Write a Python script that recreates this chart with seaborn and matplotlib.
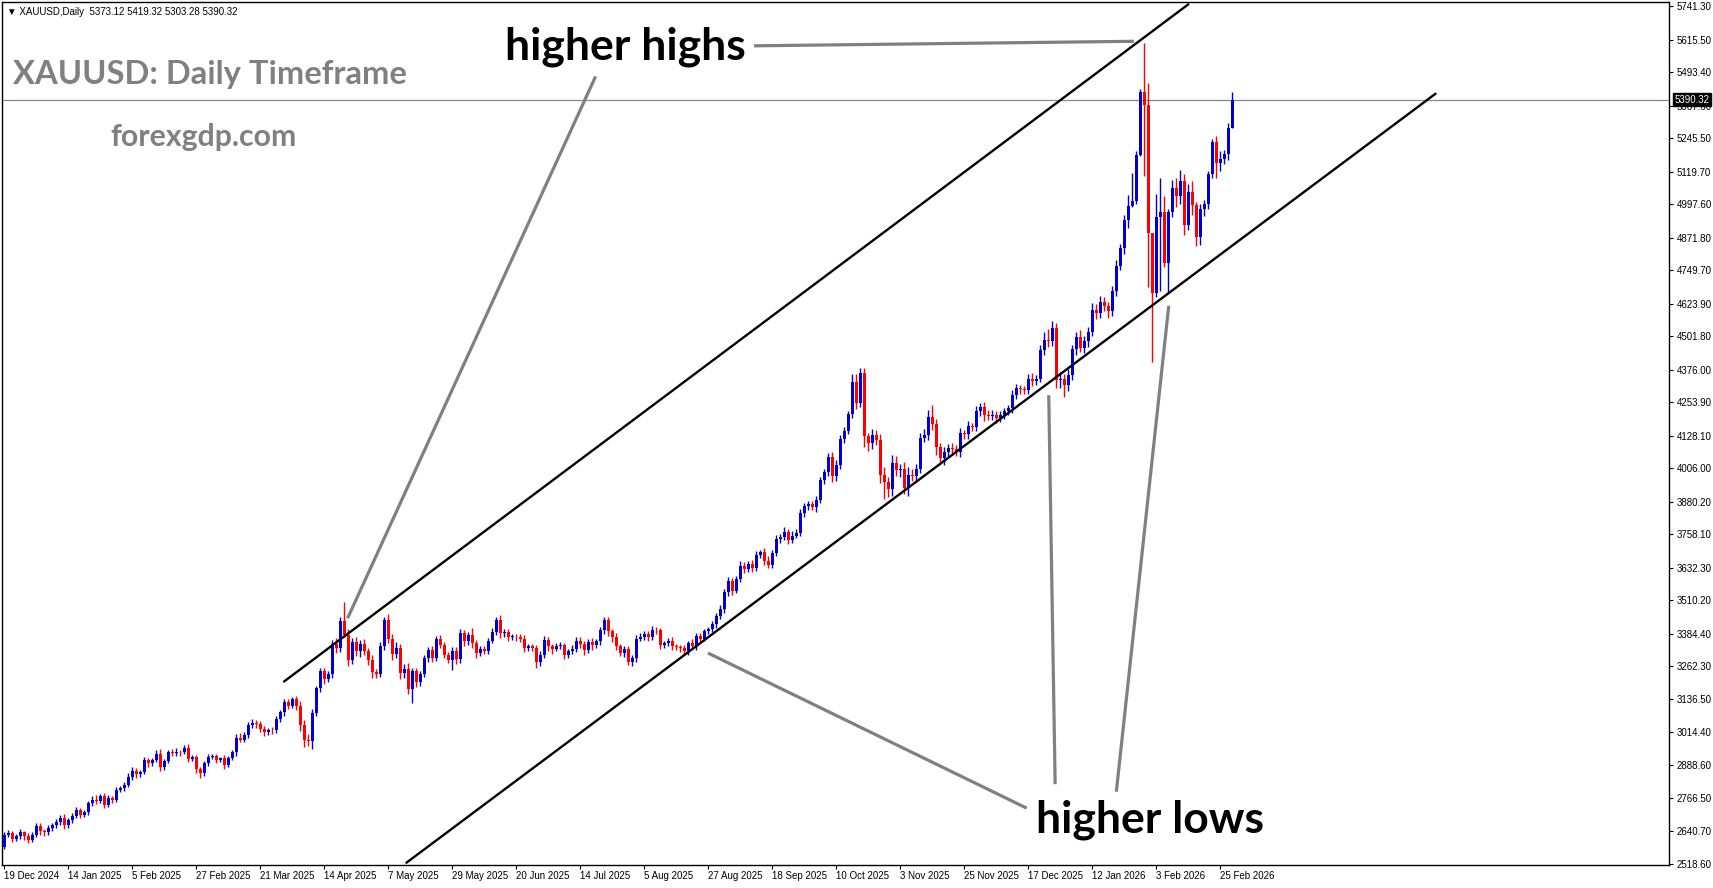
import matplotlib
matplotlib.use("Agg")
import matplotlib.pyplot as plt
import matplotlib.transforms as mtransforms
import numpy as np
import pandas as pd
import seaborn as sns

# daily closes (19 Dec 2024 .. 2 Mar 2026), open = previous close
first_open = 2584
closes = [
    2628, 2634, 2612, 2622, 2637, 2622, 2610, 2628, 2660, 2641,
    2637, 2653, 2663, 2675, 2692, 2663, 2682, 2700, 2721, 2703,
    2713, 2747, 2760, 2754, 2775, 2741, 2766, 2760, 2797, 2802,
    2816, 2845, 2869, 2856, 2865, 2910, 2896, 2908, 2933, 2881,
    2904, 2938, 2935, 2940, 2938, 2955, 2914, 2919, 2877, 2860,
    2896, 2921, 2923, 2910, 2915, 2889, 2918, 2938, 2993, 2986,
    3004, 3039, 3050, 3045, 3025, 3014, 3023, 3020, 3062, 3088,
    3127, 3113, 3137, 3113, 3039, 2984, 2981, 3087, 3179, 3242,
    3213, 3233, 3346, 3330, 3430, 3380, 3286, 3351, 3317, 3346,
    3317, 3286, 3238, 3234, 3338, 3434, 3365, 3308, 3331, 3236,
    3252, 3177, 3242, 3201, 3232, 3293, 3321, 3294, 3363, 3342,
    3305, 3286, 3320, 3288, 3385, 3355, 3377, 3348, 3313, 3327,
    3320, 3357, 3391, 3436, 3385, 3390, 3371, 3373, 3370, 3365,
    3330, 3336, 3330, 3276, 3305, 3361, 3336, 3327, 3338, 3341,
    3305, 3317, 3328, 3357, 3345, 3323, 3352, 3340, 3355, 3398,
    3434, 3392, 3371, 3336, 3313, 3327, 3276, 3292, 3365, 3373,
    3383, 3370, 3398, 3396, 3342, 3348, 3358, 3338, 3333, 3330,
    3317, 3348, 3338, 3376, 3365, 3395, 3400, 3420, 3451, 3477,
    3539, 3580, 3546, 3589, 3639, 3626, 3646, 3630, 3680, 3690,
    3658, 3643, 3687, 3740, 3749, 3765, 3737, 3752, 3764, 3837,
    3862, 3871, 3858, 3887, 3962, 3990, 4047, 3975, 4018, 4115,
    4146, 4210, 4331, 4250, 4363, 4125, 4100, 4129, 4112, 3981,
    3952, 3928, 4027, 4000, 4003, 3933, 3981, 3978, 4003, 4121,
    4131, 4197, 4172, 4084, 4043, 4068, 4081, 4077, 4068, 4137,
    4134, 4165, 4160, 4221, 4234, 4206, 4202, 4206, 4196, 4206,
    4219, 4231, 4281, 4306, 4303, 4300, 4342, 4332, 4342, 4448,
    4488, 4482, 4532, 4338, 4342, 4319, 4357, 4453, 4498, 4457,
    4482, 4517, 4601, 4588, 4632, 4616, 4595, 4672, 4767, 4832,
    4939, 4992, 5010, 5183, 5421, 5371, 4889, 4663, 4951, 4970,
    4776, 4970, 5058, 5027, 5085, 4920, 5045, 4995, 4876, 4979,
    5000, 5112, 5233, 5152, 5168, 5187, 5283, 5390.32,
]
# upper / lower shadow lengths (price units)
wick_up = [
    10, 12, 8, 10, 14, 6, 12, 10, 14, 12,
    8, 10, 8, 12, 10, 14, 8, 10, 12, 8,
    10, 8, 12, 18, 8, 10, 12, 6, 10, 8,
    10, 14, 12, 10, 8, 12, 8, 10, 14, 18,
    8, 10, 12, 14, 8, 12, 16, 10, 8, 6,
    10, 12, 8, 10, 6, 12, 8, 10, 12, 18,
    10, 12, 14, 8, 10, 12, 8, 10, 12, 10,
    12, 10, 8, 14, 16, 20, 24, 12, 10, 14,
    12, 10, 14, 20, 16, 74, 22, 18, 20, 14,
    16, 12, 18, 14, 16, 12, 22, 18, 20, 14,
    16, 20, 12, 14, 10, 12, 14, 16, 12, 14,
    12, 10, 14, 12, 16, 12, 14, 29, 12, 10,
    10, 12, 14, 10, 18, 12, 10, 8, 10, 14,
    12, 10, 8, 10, 12, 14, 10, 8, 10, 12,
    8, 10, 12, 14, 16, 10, 12, 14, 10, 12,
    14, 12, 10, 14, 8, 10, 12, 10, 12, 14,
    10, 12, 14, 12, 10, 8, 10, 12, 8, 10,
    12, 10, 14, 10, 12, 8, 10, 12, 10, 14,
    12, 16, 14, 10, 18, 14, 12, 16, 14, 10,
    14, 16, 12, 14, 10, 18, 14, 16, 12, 14,
    12, 10, 12, 14, 10, 14, 16, 18, 20, 14,
    16, 12, 30, 28, 18, 20, 14, 24, 20, 22,
    28, 20, 30, 24, 20, 26, 30, 22, 20, 18,
    22, 28, 48, 20, 16, 18, 14, 18, 14, 20,
    14, 18, 12, 20, 16, 22, 18, 20, 14, 16,
    12, 14, 18, 16, 14, 12, 16, 22, 14, 20,
    28, 40, 25, 18, 26, 18, 22, 16, 20, 26,
    22, 18, 24, 20, 22, 16, 14, 18, 22, 16,
    20, 40, 104, 13, 8, 182, 81, 0, 84, 125,
    57, 10, 31, 38, 40, 25, 30, 40, 10, 20,
    14, 12, 8, 21, 30, 14, 20, 29,
]
wick_dn = [
    8, 10, 12, 8, 10, 12, 14, 8, 10, 12,
    14, 8, 10, 8, 12, 14, 10, 8, 10, 12,
    8, 10, 12, 10, 8, 14, 10, 12, 8, 10,
    8, 10, 12, 14, 10, 8, 12, 10, 8, 14,
    10, 8, 12, 10, 14, 8, 12, 10, 16, 20,
    12, 10, 8, 12, 10, 14, 8, 10, 12, 10,
    8, 12, 10, 14, 12, 16, 10, 12, 8, 10,
    12, 14, 10, 16, 20, 27, 20, 30, 12, 14,
    18, 12, 16, 20, 14, 10, 24, 18, 16, 20,
    14, 20, 22, 18, 14, 16, 18, 24, 16, 22,
    20, 18, 54, 16, 14, 12, 16, 18, 14, 12,
    14, 12, 40, 18, 14, 16, 12, 18, 20, 12,
    14, 12, 10, 14, 18, 12, 16, 10, 12, 14,
    16, 12, 10, 22, 14, 12, 16, 18, 10, 12,
    16, 12, 10, 12, 14, 18, 12, 16, 10, 12,
    14, 16, 18, 12, 14, 16, 9, 12, 14, 10,
    12, 14, 10, 12, 16, 12, 10, 14, 12, 16,
    14, 12, 10, 14, 12, 10, 12, 10, 14, 12,
    14, 12, 16, 10, 12, 14, 12, 16, 10, 12,
    16, 14, 12, 10, 14, 12, 16, 12, 10, 12,
    14, 12, 10, 16, 12, 14, 12, 22, 18, 16,
    14, 12, 16, 20, 14, 40, 30, 24, 20, 30,
    63, 30, 26, 22, 28, 24, 30, 20, 22, 16,
    18, 20, 24, 30, 22, 26, 20, 18, 16, 22,
    18, 20, 16, 14, 18, 22, 16, 14, 20, 16,
    14, 12, 18, 16, 20, 14, 16, 18, 12, 14,
    18, 20, 16, 32, 30, 44, 24, 18, 22, 16,
    18, 20, 16, 22, 18, 20, 26, 16, 20, 18,
    22, 30, 3, 10, 5, 267, 201, 260, 13, 280,
    13, 113, 20, 38, 30, 37, 20, 38, 34, 30,
    24, 20, 16, 57, 30, 20, 22, 0,
]
date_labels = ["19 Dec 2024", "14 Jan 2025", "5 Feb 2025", "27 Feb 2025", "21 Mar 2025",
               "14 Apr 2025", "7 May 2025", "29 May 2025", "20 Jun 2025", "14 Jul 2025",
               "5 Aug 2025", "27 Aug 2025", "18 Sep 2025", "10 Oct 2025", "3 Nov 2025",
               "25 Nov 2025", "17 Dec 2025", "12 Jan 2026", "3 Feb 2026", "25 Feb 2026"]
price_ticks = [5741.30, 5615.50, 5493.40, 5367.60, 5245.50, 5119.70, 4997.60, 4871.80,
               4749.70, 4623.90, 4501.80, 4376.00, 4253.90, 4128.10, 4006.00, 3880.20,
               3758.10, 3632.30, 3510.20, 3384.40, 3262.30, 3136.50, 3014.40, 2888.60,
               2766.50, 2640.70, 2518.60]
last_quote = [5373.12, 5419.32, 5303.28, 5390.32]

# channel anchors (bar index, price)
upper_channel = ([69.9, 296.0], [3204, 5749])
lower_channel = ([100.5, 357.8], [2523, 5413])

df = pd.DataFrame({"close": closes, "up": wick_up, "dn": wick_dn})
df["bar"] = np.arange(len(df))
df["open"] = [first_open] + closes[:-1]
df["high"] = df[["open", "close"]].max(axis=1) + df["up"]
df["low"] = df[["open", "close"]].min(axis=1) - df["dn"]
df["bull"] = df["close"] >= df["open"]

sns.set_style("white")
plt.rcParams["font.family"] = ["Liberation Sans", "DejaVu Sans"]

fig = plt.figure(figsize=(17.13, 8.88), dpi=100)
ax = fig.add_axes([0.0012, 0.0259, 0.9734, 0.9718])

bull_c, bear_c = "#0000d0", "#ff0000"
colors = np.where(df["bull"], bull_c, bear_c)
ax.vlines(df["bar"], df["low"], df["high"], colors=colors, lw=1.0, zorder=2)
body_lo = df[["open", "close"]].min(axis=1)
body_h = np.maximum((df["close"] - df["open"]).abs(), 3)
ax.bar(df["bar"], body_h, bottom=body_lo, width=0.75, color=colors, linewidth=0, zorder=3)

# channel
for xs, ys in (upper_channel, lower_channel):
    sns.lineplot(x=xs, y=ys, color="black", lw=1.7, ax=ax, zorder=4)

# grey arrows
grey = "#808080"
guides = [
    ([187.4, 282.4], [5593, 5610]),
    ([147.8, 85.8], [5478, 3442]),
    ([255.6, 175.9], [2728, 3311]),
    ([262.7, 261.1], [2818, 4280]),
    ([278.0, 291.1], [2790, 4616]),
]
for xs, ys in guides:
    ax.plot(xs, ys, color=grey, lw=2.3, solid_capstyle="butt", zorder=4)

ax.text(155.2, 5590, "higher highs", ha="center", va="center", fontsize=32,
        fontweight="bold", family="Lato", color="black")
ax.text(286.4, 2684, "higher lows", ha="center", va="center", fontsize=32,
        fontweight="bold", family="Lato", color="black")
ax.text(2.2, 5486, "XAUUSD: Daily Timeframe", ha="left", va="center", fontsize=23.6,
        fontweight="bold", family="Lato", color=grey)
ax.text(49.7, 5252, "forexgdp.com", ha="center", va="center", fontsize=21.8,
        fontweight="bold", family="Lato", color=grey)
ax.text(0.003, 0.994, "\u25bc XAUUSD,Daily  " + " ".join(f"{v:.2f}" for v in last_quote),
        transform=ax.transAxes, ha="left", va="top", fontsize=7, color="black",
        family=["Liberation Sans", "DejaVu Sans"])

# current price line + label
ax.axhline(last_quote[3], color="#7d8b99", lw=0.9, zorder=1)
trans = mtransforms.blended_transform_factory(ax.transAxes, ax.transData)
ax.text(1.003, last_quote[3], f"{last_quote[3]:.2f}", transform=trans, ha="left", va="center",
        fontsize=7, color="white", zorder=6,
        bbox=dict(facecolor="black", edgecolor="black", pad=1.2))

ax.set_xlim(-0.6, 416.3)
ax.set_ylim(2514.5, 5757.5)

ax.yaxis.tick_right()
ax.set_yticks(price_ticks)
ax.set_yticklabels([f"{v:.2f}" for v in price_ticks])
ax.set_xticks(range(0, 16 * len(date_labels), 16))
ax.set_xticklabels(date_labels)
for lab in ax.get_xticklabels():
    lab.set_horizontalalignment("left")
ax.tick_params(axis="y", right=True, left=False, length=3, width=0.8, pad=2,
               labelsize=7, colors="black", direction="out")
ax.tick_params(axis="x", bottom=True, length=3, width=0.8, pad=1,
               labelsize=7, colors="black", direction="out")
for s in ax.spines.values():
    s.set_visible(True)
    s.set_color("black")
    s.set_linewidth(1.0)
ax.grid(False)
ax.set_xlabel("")
ax.set_ylabel("")

fig.savefig("out.png", dpi=100)
